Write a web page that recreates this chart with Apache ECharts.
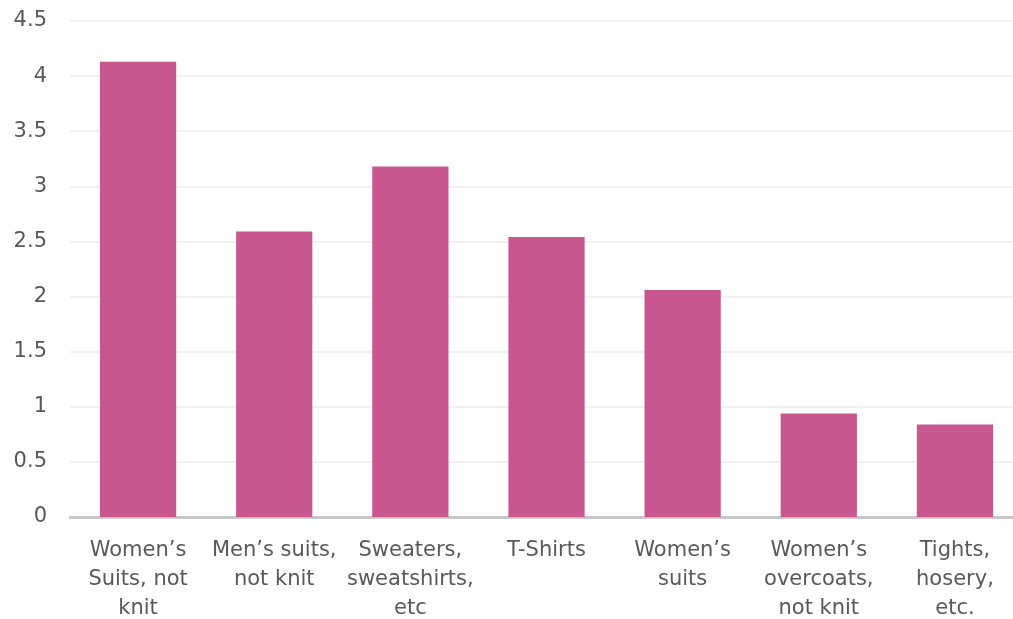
<!DOCTYPE html>
<html><head><meta charset="utf-8">
<script src="https://cdn.jsdelivr.net/npm/echarts@6/dist/echarts.min.js"></script>
<style>html,body{margin:0;padding:0;background:#fff;overflow:hidden}#c{width:1023px;height:619px}</style>
</head><body><div id="c"></div>
<script>
const categories = ["Women\u2019s\nSuits, not\nknit", "Men\u2019s suits,\nnot knit", "Sweaters,\nsweatshirts,\netc", "T-Shirts", "Women\u2019s\nsuits", "Women\u2019s\novercoats,\nnot knit", "Tights,\nhosery,\netc."];
const values = [4.13, 2.59, 3.18, 2.54, 2.06, 0.94, 0.84];
const chart = echarts.init(document.getElementById('c'));
chart.setOption({
  animation: false,
  grid: {left: 70, right: 0, top: 21, bottom: 102, outerBoundsMode: 'none', containLabel: false},
  xAxis: {
    type: 'category', data: categories,
    axisLine: {lineStyle: {color: '#bfbfbf', width: 2.5}},
    axisTick: {show: false},
    axisLabel: {color: '#595959', fontSize: 21, fontFamily: '"DejaVu Sans"', lineHeight: 29, margin: 19, interval: 0}
  },
  yAxis: {
    type: 'value', min: 0, max: 4.5, interval: 0.5,
    axisLine: {show: false}, axisTick: {show: false},
    splitLine: {lineStyle: {color: '#ececec', width: 1.5}},
    axisLabel: {color: '#595959', fontSize: 21, fontFamily: '"DejaVu Sans"', margin: 23}
  },
  series: [{
    type: 'bar', data: values, barWidth: '56%',
    itemStyle: {color: '#c8578f'}
  }]
});
</script></body></html>
